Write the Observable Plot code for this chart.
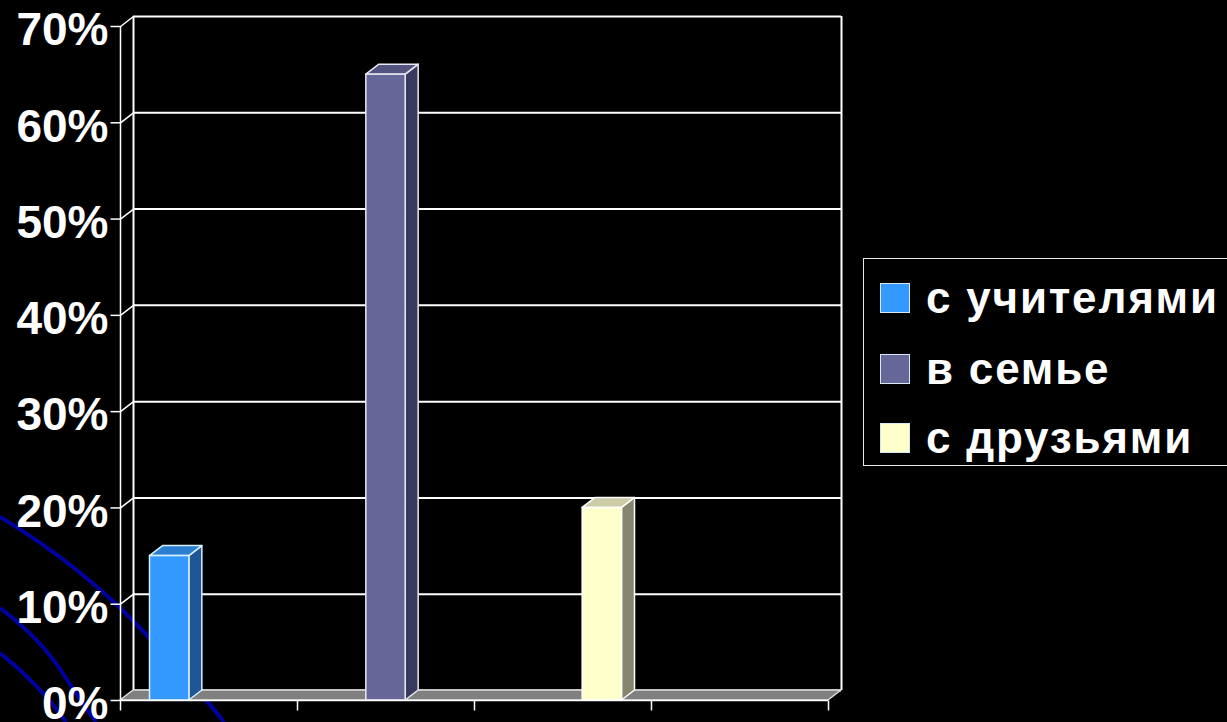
<!DOCTYPE html>
<html>
<head>
<meta charset="utf-8">
<script src="https://cdn.jsdelivr.net/npm/d3@7"></script>
<script src="https://cdn.jsdelivr.net/npm/@observablehq/plot@0.6"></script>
<style>
  html, body { margin: 0; padding: 0; background: #000; }
  #wrap { position: relative; width: 1227px; height: 722px; overflow: hidden; background: #000; }
  #deco { position: absolute; left: 0; top: 0; }
  #chart { position: absolute; left: 0; top: 0; }
  #legend {
    position: absolute; left: 863px; top: 258px; width: 380px; height: 208px;
    border: 1.5px solid #e8e8e8; box-sizing: border-box;
    font-family: "Liberation Sans", Arial, sans-serif; font-weight: bold; font-size: 44px; color: #fff;
  }
  .item { position: absolute; left: 16px; height: 30px; display: flex; align-items: center; white-space: nowrap; }
  .sw { width: 28px; height: 28px; border: 1.5px solid #d8e8f0; margin-right: 16px; flex: none; }
  .lbl { letter-spacing: 1.8px; line-height: 30px; }
</style>
</head>
<body>
<div id="wrap">
  <svg id="deco" width="1227" height="722" aria-hidden="true">
    <g fill="none" stroke="#0000A0" stroke-width="4">
      <path d="M0,517 Q80,565 140,628 T224,722"/>
      <path d="M0,608 Q40,638 62,672 T96,722"/>
      <path d="M0,653 Q40,685 66,722"/>
    </g>
  </svg>
  <div id="chart"></div>
  <div id="legend"></div>
</div>
<script>
// ---- data ----
const categories = ["", "", "", ""];
const series = ["с учителями", "в семье", "с друзьями"];
const teachers = [15, 0, 0, 0];
const family = [0, 65, 0, 0];
const friends = [0, 0, 20, 0];
const yTicks = [0, 10, 20, 30, 40, 50, 60, 70];
const frontColors = ["#3399FF", "#666699", "#FFFFCC"];
const sideColors = ["#1F5796", "#3A3A5E", "#86866C"];
const topColors = ["#2C7ED2", "#545480", "#CCCCA6"];
const edgeColors = ["#D8F0FF", "#E8E8F4", "#FFFFFF"];

// ---- layout ----
const W = 1227, H = 722, ML = 120, MR = 399, MT = 26, MB = 22;
const DEPTH_X = 13, DEPTH_Y = 10;
const GAP = 1.5;
const xMax = categories.length;
const yMax = yTicks[yTicks.length - 1];
const ux = xMax / (W - ML - MR);
const uy = yMax / (H - MT - MB);
const dX = DEPTH_X * ux, dY = DEPTH_Y * uy;
const bw = 1 / (series.length + GAP);

const seriesValues = [teachers, family, friends];
const rows = [];
seriesValues.forEach((vals, s) => vals.forEach((v, k) => {
  if (v > 0) {
    const x1 = k + (GAP / 2 + s) * bw;
    rows.push({series: series[s], s, k, v, x1, x2: x1 + bw});
  }
}));

const barMarks = rows.flatMap(r => [
  Plot.areaY([{x: r.x2, y1: 0, y2: r.v}, {x: r.x2 + dX, y1: dY, y2: r.v + dY}],
    {x: "x", y1: "y1", y2: "y2", fill: sideColors[r.s], stroke: edgeColors[r.s], strokeWidth: 1.5, strokeLinejoin: "round"}),
  Plot.areaX([{y: r.v, x1: r.x1, x2: r.x2}, {y: r.v + dY, x1: r.x1 + dX, x2: r.x2 + dX}],
    {y: "y", x1: "x1", x2: "x2", fill: topColors[r.s], stroke: edgeColors[r.s], strokeWidth: 1.5, strokeLinejoin: "round"}),
  Plot.rect([r], {x1: "x1", x2: "x2", y1: 0, y2: "v", fill: frontColors[r.s], stroke: edgeColors[r.s], strokeWidth: 1.5})
]);

const chart = Plot.plot({
  width: W, height: H,
  marginLeft: ML, marginRight: MR, marginTop: MT, marginBottom: MB,
  style: {background: "transparent", color: "white", fontFamily: "'Liberation Sans', Arial, sans-serif", overflow: "visible"},
  x: {domain: [0, xMax], axis: null},
  y: {domain: [0, yMax], axis: null},
  marks: [
    // back wall grid
    Plot.ruleY(yTicks, {y: d => d, x1: 0, x2: xMax, dx: DEPTH_X, dy: -DEPTH_Y, stroke: "white", strokeWidth: 2}),
    Plot.ruleX([0, xMax], {x: d => d, y1: 0, y2: yMax, dx: DEPTH_X, dy: -DEPTH_Y, stroke: "white", strokeWidth: 2}),
    // side wall depth lines
    Plot.link(yTicks, {x1: 0, y1: d => d, x2: dX, y2: d => d + dY, stroke: "white", strokeWidth: 1.5}),
    // floor
    Plot.areaX([{y: 0, x1: 0, x2: xMax}, {y: dY, x1: dX, x2: xMax + dX}],
      {y: "y", x1: "x1", x2: "x2", fill: "#808080", stroke: "#dddddd", strokeWidth: 1.5}),
    // bars
    ...barMarks,
    // front axes
    Plot.ruleX([0], {y1: 0, y2: yMax, stroke: "white", strokeWidth: 1.5}),
    Plot.ruleY([0], {x1: 0, x2: xMax, stroke: "white", strokeWidth: 1.5}),
    Plot.link(yTicks, {x1: -10 * ux, x2: 0, y1: d => d, y2: d => d, stroke: "white", strokeWidth: 1.5}),
    Plot.link(d3.range(xMax + 1), {x1: d => d, x2: d => d, y1: 0, y2: -10 * uy, stroke: "white", strokeWidth: 1.5}),
    Plot.text(yTicks, {x: 0, y: d => d, text: d => d + "%", textAnchor: "end", dx: -12, dy: 4,
      fontSize: 46, fontWeight: "bold", fill: "white"})
  ]
});
document.getElementById("chart").appendChild(chart);

// ---- legend ----
const legend = document.getElementById("legend");
const rowTops = [24, 95, 164];
series.forEach((name, i) => {
  const it = document.createElement("div");
  it.className = "item";
  it.style.top = rowTops[i] + "px";
  const sw = document.createElement("div");
  sw.className = "sw";
  sw.style.background = frontColors[i];
  const lb = document.createElement("span");
  lb.className = "lbl";
  lb.textContent = name;
  it.appendChild(sw); it.appendChild(lb);
  legend.appendChild(it);
});
</script>
</body>
</html>
